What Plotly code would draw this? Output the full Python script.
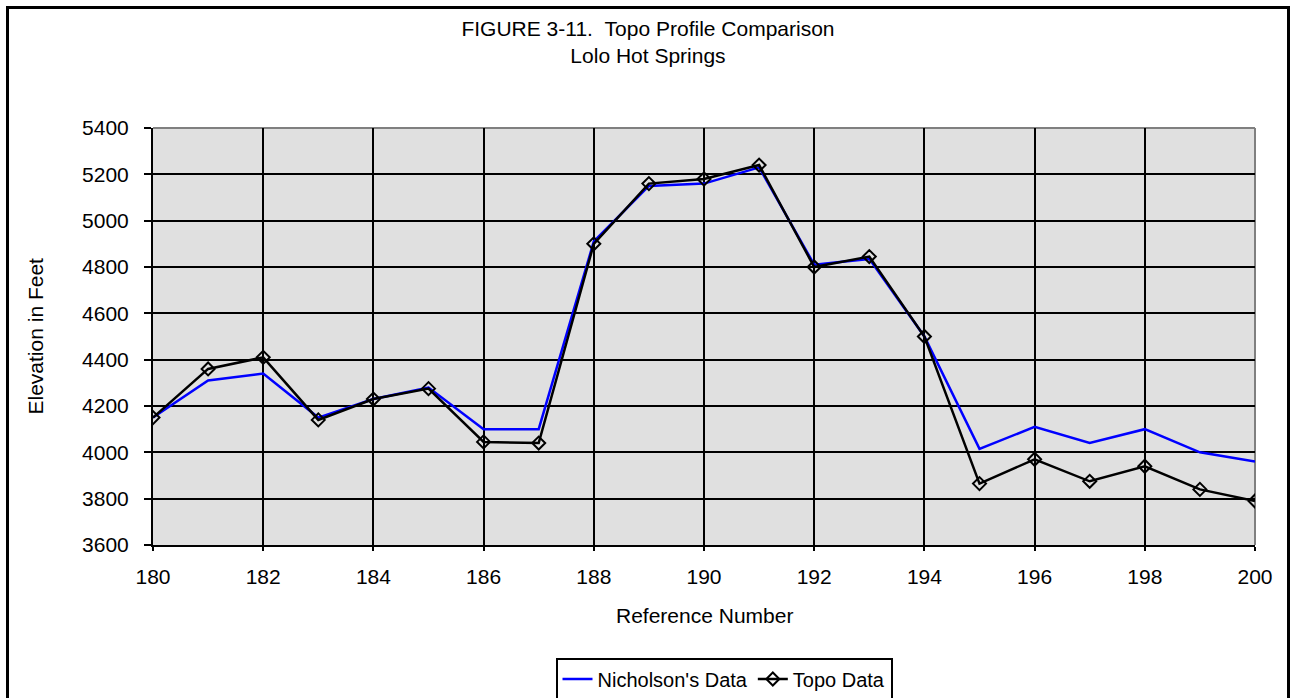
import plotly.graph_objects as go

reference_number = list(range(180, 201))
nicholson = [4150, 4310, 4340, 4150, 4230, 4280, 4100, 4100, 4910, 5150, 5160,
             5230, 4810, 4835, 4500, 4015, 4110, 4040, 4100, 4000, 3960]
topo = [4150, 4360, 4410, 4140, 4230, 4275, 4045, 4040, 4900, 5160, 5180,
        5240, 4800, 4845, 4500, 3865, 3970, 3875, 3940, 3840, 3790]

title_text = "FIGURE 3-11.\u00a0\u00a0Topo Profile Comparison<br>Lolo Hot Springs"
x_title = "Reference Number"
y_title = "Elevation in Feet"

W, H = 1291, 698
L, R, T, B = 153, 1255, 128, 545
FONT = "Arial, Liberation Sans, sans-serif"

def px_x(px):
    return (px - L) / (R - L)

def px_y(py):
    return (B - py) / (B - T)

fig = go.Figure()
fig.add_trace(go.Scatter(x=reference_number, y=nicholson, mode="lines",
                         name="Nicholson's Data",
                         line=dict(color="#0000FF", width=2.5)))
fig.add_trace(go.Scatter(x=reference_number, y=topo, mode="lines+markers",
                         name="Topo Data",
                         line=dict(color="#000000", width=2.5),
                         marker=dict(symbol="diamond-open", size=10, color="#000000",
                                     line=dict(color="#000000", width=2))))

fig.update_layout(
    width=W, height=H,
    margin=dict(l=L, r=W - R, t=T, b=H - B),
    paper_bgcolor="white",
    plot_bgcolor="#E0E0E0",
    font=dict(family=FONT, size=21, color="black"),
    title=dict(text=title_text, x=648 / W, xanchor="center", xref="container",
               y=1 - 36 / H, yanchor="top", yref="container",
               font=dict(family=FONT, size=21, color="black")),
    showlegend=True,
    legend=dict(orientation="h", xref="container", yref="container",
                x=724 / W, xanchor="center", y=1 - 679 / H, yanchor="middle",
                bordercolor="black", borderwidth=2, bgcolor="white",
                font=dict(family=FONT, size=20, color="black"),
                itemwidth=30, tracegroupgap=0),
)

fig.update_xaxes(range=[180, 200], dtick=2, tick0=180,
                 showgrid=True, gridcolor="black", gridwidth=2,
                 showline=True, linecolor="black", linewidth=2, mirror=False,
                 ticks="outside", ticklen=4, tickwidth=2, tickcolor="black",
                 ticklabelstandoff=8, zeroline=False,
                 tickfont=dict(family=FONT, size=21, color="black"))
fig.update_yaxes(range=[3600, 5400], dtick=200, tick0=3600,
                 showgrid=True, gridcolor="black", gridwidth=2,
                 showline=True, linecolor="black", linewidth=2, mirror=False,
                 ticks="outside", ticklen=7, tickwidth=2, tickcolor="black",
                 ticklabelstandoff=11, zeroline=False,
                 tickfont=dict(family=FONT, size=21, color="black"))

# gray top and right plot-area border
fig.add_shape(type="line", xref="paper", yref="paper", x0=0, x1=1, y0=1, y1=1,
              line=dict(color="#808080", width=2), layer="between")
fig.add_shape(type="line", xref="paper", yref="paper", x0=1, x1=1, y0=0, y1=1,
              line=dict(color="#808080", width=2), layer="between")

# outer chart frame
fig.add_shape(type="rect", xref="paper", yref="paper",
              x0=px_x(7.5), x1=px_x(1288.5), y0=px_y(710), y1=px_y(7.5),
              line=dict(color="black", width=3), fillcolor="rgba(0,0,0,0)",
              layer="above")

fig.add_annotation(text=y_title, xref="paper", yref="paper",
                   x=px_x(35), y=0.5, textangle=-90, showarrow=False,
                   xanchor="center", yanchor="middle",
                   font=dict(family=FONT, size=21, color="black"))
fig.add_annotation(text=x_title, xref="paper", yref="paper",
                   x=0.5, y=px_y(615), showarrow=False,
                   xanchor="center", yanchor="middle",
                   font=dict(family=FONT, size=21, color="black"))

fig.write_html("out.html", config={"displayModeBar": False},
               post_script="document.body.style.margin='0';document.body.style.overflow='hidden';")
